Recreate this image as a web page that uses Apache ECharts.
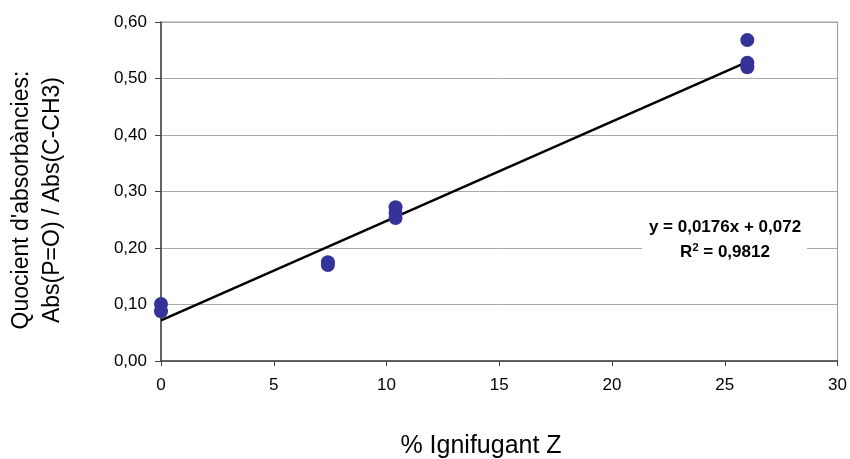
<!DOCTYPE html>
<html>
<head>
<meta charset="utf-8">
<title>Quocient d'absorbàncies</title>
<script src="https://cdn.jsdelivr.net/npm/echarts@6/dist/echarts.min.js"></script>
<style>
  html, body { margin: 0; padding: 0; background: #fff; }
  #chart { width: 850px; height: 459px; }
</style>
</head>
<body>
<div id="chart"></div>
<script>
// dades llegides del gràfic
var pctIgnifugant = [0, 0, 7.4, 7.4, 10.4, 10.4, 10.4, 26, 26, 26];
var quocient = [0.101, 0.088, 0.175, 0.170, 0.272, 0.262, 0.253, 0.568, 0.528, 0.520];
// recta de regressió: y = 0,0176x + 0,072
var trendX = [0, 26];
var trendY = [0.072, 0.5296];
var eqText = "y = 0,0176x + 0,072";
var r2Text = "0,9812";

var font = "Liberation Sans, Arial, sans-serif";

var chart = echarts.init(document.getElementById("chart"), null, { renderer: "canvas" });

var option = {
  animation: false,
  backgroundColor: "#fff",
  grid: {
    left: 161,
    right: 11,
    top: 22,
    bottom: 98,
    show: true,
    borderColor: "#999",
    borderWidth: 1
  },
  xAxis: {
    type: "value",
    min: 0,
    max: 30,
    interval: 5,
    axisLine: { show: true, onZero: false, lineStyle: { color: "#404040", width: 1.5 } },
    axisTick: { show: true, length: 5, lineStyle: { color: "#404040" } },
    axisLabel: { margin: 16, color: "#000", fontSize: 17, fontFamily: font },
    splitLine: { show: false }
  },
  yAxis: {
    type: "value",
    min: 0,
    max: 0.6,
    interval: 0.1,
    axisLine: { show: true, onZero: false, lineStyle: { color: "#404040", width: 1.5 } },
    axisTick: { show: true, inside: false, length: 6, lineStyle: { color: "#404040" } },
    axisLabel: {
      margin: 14,
      color: "#000",
      fontSize: 17,
      fontFamily: font,
      formatter: function (v) { return v.toFixed(2).replace(".", ","); }
    },
    splitLine: { show: true, lineStyle: { color: "#aaa", width: 1 } }
  },
  series: [
    {
      type: "line",
      data: trendX.map(function (x, i) { return [x, trendY[i]]; }),
      symbol: "none",
      lineStyle: { color: "#000", width: 2.5 },
      z: 2
    },
    {
      type: "scatter",
      data: pctIgnifugant.map(function (x, i) { return [x, quocient[i]]; }),
      symbolSize: 14,
      itemStyle: { color: "#333399", opacity: 1 },
      z: 3
    }
  ],
  graphic: [
    {
      type: "rect",
      shape: { x: 642, y: 212, width: 165, height: 54 },
      style: { fill: "#fff" },
      z: 10
    },
    {
      type: "text",
      x: 725,
      y: 227,
      style: {
        text: eqText,
        fontFamily: font,
        fontSize: 17,
        fontWeight: "bold",
        fill: "#000",
        align: "center",
        verticalAlign: "middle"
      },
      z: 11
    },
    {
      type: "text",
      x: 725,
      y: 252,
      style: {
        text: "R{sup|2} = " + r2Text,
        fontFamily: font,
        fontSize: 17,
        fontWeight: "bold",
        fill: "#000",
        align: "center",
        verticalAlign: "middle",
        rich: {
          sup: { fontSize: 11, fontWeight: "bold", fontFamily: font, verticalAlign: "top", padding: [0, 0, 8, 0] }
        }
      },
      z: 11
    },
    {
      type: "text",
      x: 37,
      y: 200,
      rotation: Math.PI / 2,
      style: {
        text: "Quocient d'absorbàncies:\nAbs(P=O) / Abs(C-CH3)",
        fontFamily: font,
        fontSize: 23,
        lineHeight: 31,
        fill: "#000",
        align: "center",
        verticalAlign: "middle"
      }
    },
    {
      type: "text",
      x: 481,
      y: 446,
      style: {
        text: "% Ignifugant Z",
        fontFamily: font,
        fontSize: 25,
        fill: "#000",
        align: "center",
        verticalAlign: "middle"
      }
    }
  ]
};

chart.setOption(option);
</script>
</body>
</html>
